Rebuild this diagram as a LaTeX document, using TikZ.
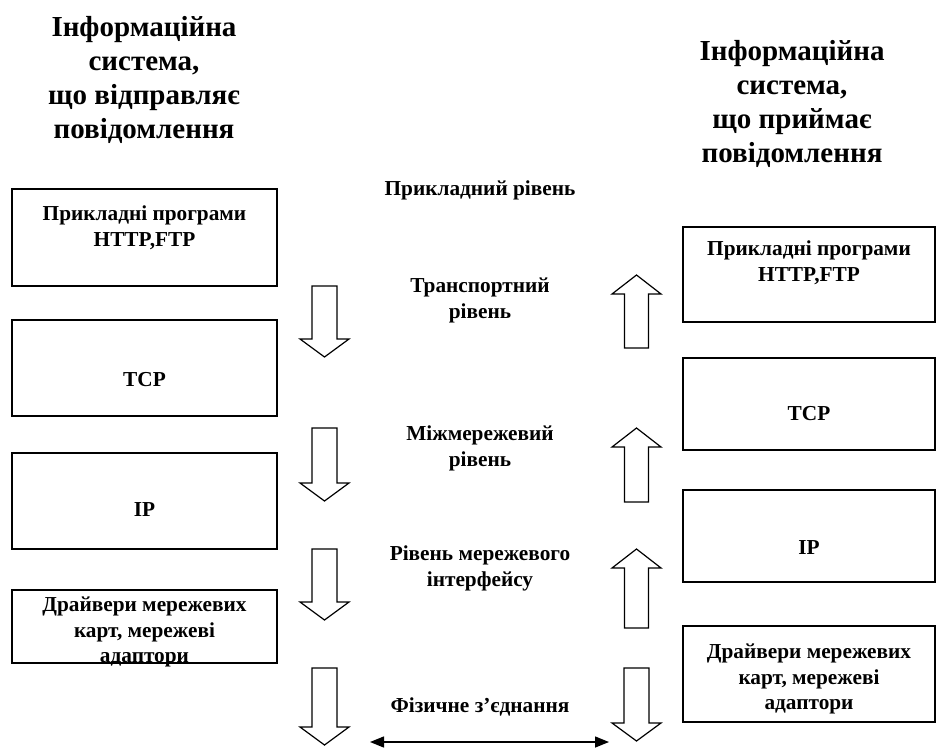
\documentclass[tikz,border=0pt]{standalone}
\usepackage{fontspec}
\setmainfont{Liberation Serif}
\usetikzlibrary{arrows.meta}
\begin{document}
\begin{tikzpicture}[x=1pt, y=-1pt,
  layerbox/.style={draw, line width=1.4pt, inner sep=0pt},
  boxtext/.style={font=\fontsize{21.3}{25.5}\selectfont\bfseries, align=center, inner sep=0pt},
  title/.style={font=\fontsize{29}{34}\selectfont\bfseries, align=center, inner sep=0pt},
  blockarrow/.style={draw, line width=1.2pt, fill=white}]
\useasboundingbox (0,0) rectangle (941,749);
% titles
\node[title] (tsend) at (144,80) {Інформаційна\\система,\\що відправляє\\повідомлення};
\node[title] (trecv) at (792,104) {Інформаційна\\система,\\що приймає\\повідомлення};
% sender stack
\foreach \n/\y/\h in {s1/237.5/97, s2/368/96, s3/501/96, s4/626.5/73} {\node[layerbox, minimum width=265, minimum height=\h] (\n) at (144.5,\y) {};}
\node[boxtext] (s1t) at (144.5,228) {Прикладні програми\\HTTP,FTP};
\node[boxtext] (s2t) at (144.5,380) {TCP};
\node[boxtext] (s3t) at (144.5,510) {IP};
\node[boxtext] (s4t) at (144.5,632) {Драйвери мережевих\\карт, мережеві\\адаптори};
% receiver stack
\foreach \n/\y/\h in {r1/274.5/95, r2/404/92, r3/536/92, r4/674/96} {\node[layerbox, minimum width=252, minimum height=\h] (\n) at (809,\y) {};}
\node[boxtext] (r1t) at (809,263) {Прикладні програми\\HTTP,FTP};
\node[boxtext] (r2t) at (809,414) {TCP};
\node[boxtext] (r3t) at (809,548) {IP};
\node[boxtext] (r4t) at (809,679) {Драйвери мережевих\\карт, мережеві\\адаптори};
% layer names
\node[boxtext] (lapp) at (480,190) {Прикладний рівень};
\node[boxtext] (ltr) at (480,300.5) {Транспортний\\рівень};
\node[boxtext] (lnet) at (480,448.5) {Міжмережевий\\рівень};
\node[boxtext] (lif) at (480,568.5) {Рівень мережевого\\інтерфейсу};
\node[boxtext] (lphy) at (480,707) {Фізичне з’єднання};
% block arrows down (x/tail/tip)
\foreach \x/\a/\b in {324.5/286/357, 324.5/428/501, 324.5/549/620, 324.5/668/745, 636.5/668/741}
  {\draw[blockarrow] (\x-12.5,\a) -- (\x+12.5,\a) -- (\x+12.5,\b-18) -- (\x+24.5,\b-18) -- (\x,\b) -- (\x-24.5,\b-18) -- (\x-12.5,\b-18) -- cycle;}
% block arrows up (x/tip/tail)
\foreach \x/\a/\b in {636.5/275/348, 636.5/428/502, 636.5/549/628}
  {\draw[blockarrow] (\x-12,\b) -- (\x+12,\b) -- (\x+12,\a+19) -- (\x+24.5,\a+19) -- (\x,\a) -- (\x-24.5,\a+19) -- (\x-12,\a+19) -- cycle;}
% physical link
\coordinate (pl) at (370,742);
\coordinate (pr) at (609,742);
\draw[line width=1.4pt, {Triangle[length=14pt,width=11pt]}-{Triangle[length=14pt,width=11pt]}] (pl) -- (pr);
\end{tikzpicture}
\end{document}
